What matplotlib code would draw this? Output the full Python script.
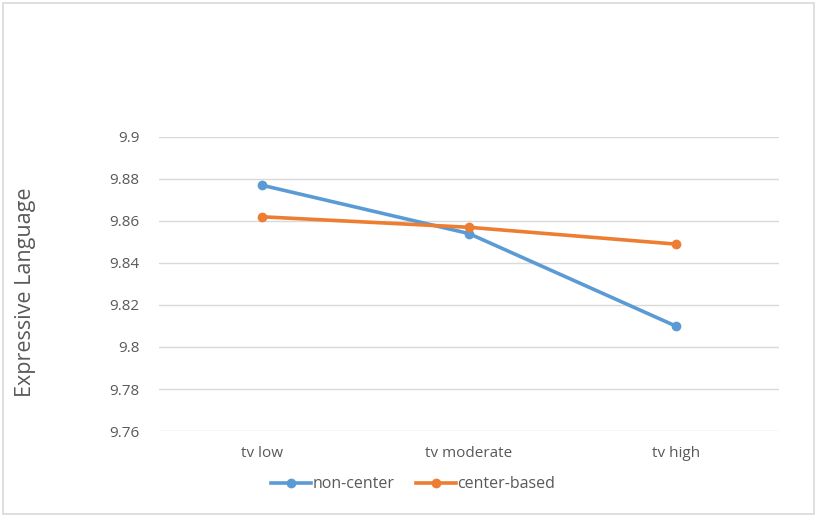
import matplotlib.pyplot as plt
from matplotlib.patches import Rectangle

plt.rcParams['font.family'] = ['Open Sans', 'DejaVu Sans']

categories = ["tv low", "tv moderate", "tv high"]
non_center = [9.877, 9.854, 9.810]
center_based = [9.862, 9.857, 9.849]
yticks = [9.76, 9.78, 9.8, 9.82, 9.84, 9.86, 9.88, 9.9]
ytick_labels = ["9.76", "9.78", "9.8", "9.82", "9.84", "9.86", "9.88", "9.9"]

fig = plt.figure(figsize=(8.21, 5.15), dpi=100)
ax = fig.add_axes([0.1937, 0.1631, 0.7551, 0.5709])

x = list(range(len(categories)))
ax.plot(x, non_center, color="#5B9BD5", lw=2.6, marker="o", ms=6, label="non-center")
ax.plot(x, center_based, color="#ED7D31", lw=2.6, marker="o", ms=6, label="center-based")

ax.set_xlim(-0.5, len(categories) - 0.5)
ax.set_ylim(9.76, 9.9)
ax.set_yticks(yticks)
ax.set_yticklabels(ytick_labels)
ax.set_xticks(x)
ax.set_xticklabels(categories)
ax.tick_params(length=0, labelsize=11, labelcolor="#595959")
ax.tick_params(axis="y", pad=14)
ax.tick_params(axis="x", pad=11)
ax.grid(axis="y", color="#D9D9D9", lw=1)
ax.set_axisbelow(True)
for s in ax.spines.values():
    s.set_visible(False)

ax.set_ylabel("Expressive Language", fontsize=15.5, color="#595959")
ax.yaxis.set_label_coords(-0.199, 0.473)

ax.legend(loc="upper center", bbox_to_anchor=(0.41, -0.105), ncol=2, frameon=False,
          fontsize=11.5, labelcolor="#595959", handlelength=2.5, handletextpad=0.1,
          columnspacing=1.3)

fig.patches.append(Rectangle((0.004, 0.002), 0.988, 0.992, transform=fig.transFigure,
                             fill=False, edgecolor="#D9D9D9", lw=1.2))

fig.savefig("out.png", dpi=100)
